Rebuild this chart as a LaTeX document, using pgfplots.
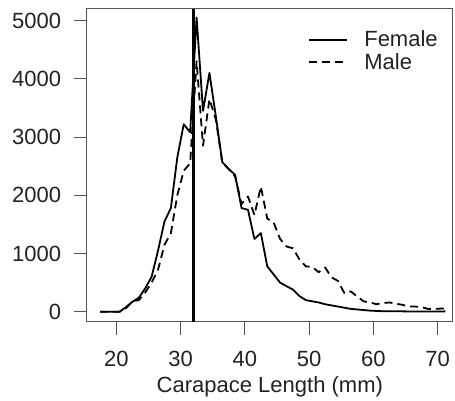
\documentclass[border=0pt]{standalone}
\usepackage{fontspec}
\setmainfont{Liberation Sans}
\usepackage{pgfplots}
\pgfplotsset{compat=1.18}
\definecolor{txt}{HTML}{222222}
\definecolor{boxc}{HTML}{555555}
\begin{document}
\begin{tikzpicture}
\path[use as bounding box] (-86.7pt,-78.3pt) rectangle (368.3pt,321.7pt);
\begin{axis}[
  at={(0,0)}, anchor=south west,
  scale only axis, width=366.3pt, height=312.7pt,
  xmin=15.4, xmax=72.4, ymin=-170, ymax=5197,
  axis line style={boxc, line width=1pt},
  tick style={boxc, line width=1pt},
  tick align=outside, major tick length=13pt,
  xtick={20,30,40,50,60,70}, ytick={0,1000,2000,3000,4000,5000},
  xtick pos=bottom, ytick pos=left,
  xticklabel shift=13pt, yticklabel shift=9pt,
  /pgf/number format/assume math mode=true,
  /pgf/number format/1000 sep={},
  every tick label/.append style={font=\fontsize{22}{26}\selectfont, text=txt},
  xlabel={Carapace Length (mm)},
  xlabel style={font=\fontsize{22}{26}\selectfont, text=txt, yshift=-3pt},
  legend style={draw=none, fill=none, at={(0.605,0.937)}, anchor=north west,
    font=\fontsize{22}{26}\selectfont, text=txt, row sep=1pt, inner sep=0pt},
  legend cell align=left,
  legend image code/.code={\draw[#1] (0pt,0pt) -- (38pt,0pt); \path (52pt,0pt);},
]
\addplot[black, line width=1.8pt, line join=round] coordinates {
(17.5,0)(18.5,0)(19.5,0)(20.5,0)(21.5,80)(22.5,170)(23.5,240)(24.5,400)
(25.5,600)(26.5,1050)(27.5,1550)(28.5,1780)(29.5,2650)(30.5,3220)(31.5,3080)
(32.5,5050)(33.5,3450)(34.5,4100)(35.5,3350)(36.5,2570)(37.5,2450)(38.5,2350)
(39.5,1780)(40.5,1750)(41.5,1250)(42.5,1350)(43.5,780)(44.5,640)(45.5,500)
(46.5,440)(47.5,380)(48.5,270)(49.5,200)(50.5,180)(51.5,160)(52.5,130)
(53.5,110)(54.5,90)(55.5,70)(56.5,50)(57.5,40)(58.5,30)(59.5,20)(60.5,15)
(61.5,10)(62.5,10)(63.5,8)(64.5,8)(65.5,6)(66.5,6)(67.5,5)(68.5,5)(69.5,5)(70.5,5)(71.2,8)
};
\addlegendentry{Female}
\addplot[black, line width=1.8pt, dash pattern=on 8pt off 5pt, line join=round] coordinates {
(17.5,0)(18.5,0)(19.5,0)(20.5,0)(21.5,60)(22.5,180)(23.5,200)(24.5,330)
(25.5,500)(26.5,720)(27.5,1150)(28.5,1350)(29.5,2000)(30.5,2420)(31.5,2550)
(32.5,4300)(33.5,2850)(34.5,3650)(35.5,3300)(36.5,2560)(37.5,2450)(38.5,2320)
(39.5,1850)(40.5,1980)(41.5,1660)(42.5,2150)(43.5,1600)(44.5,1530)(45.5,1250)
(46.5,1120)(47.5,1090)(48.5,900)(49.5,780)(50.5,770)(51.5,680)(52.5,760)
(53.5,590)(54.5,530)(55.5,320)(56.5,350)(57.5,260)(58.5,180)(59.5,160)
(60.5,130)(61.5,150)(62.5,160)(63.5,140)(64.5,120)(65.5,90)(66.5,90)
(67.5,80)(68.5,50)(69.5,50)(70.5,55)(71.2,57)
};
\addlegendentry{Male}
\addplot[black, line width=3.5pt, forget plot] coordinates {(32,-170)(32,5197)};
\end{axis}
\end{tikzpicture}
\end{document}
